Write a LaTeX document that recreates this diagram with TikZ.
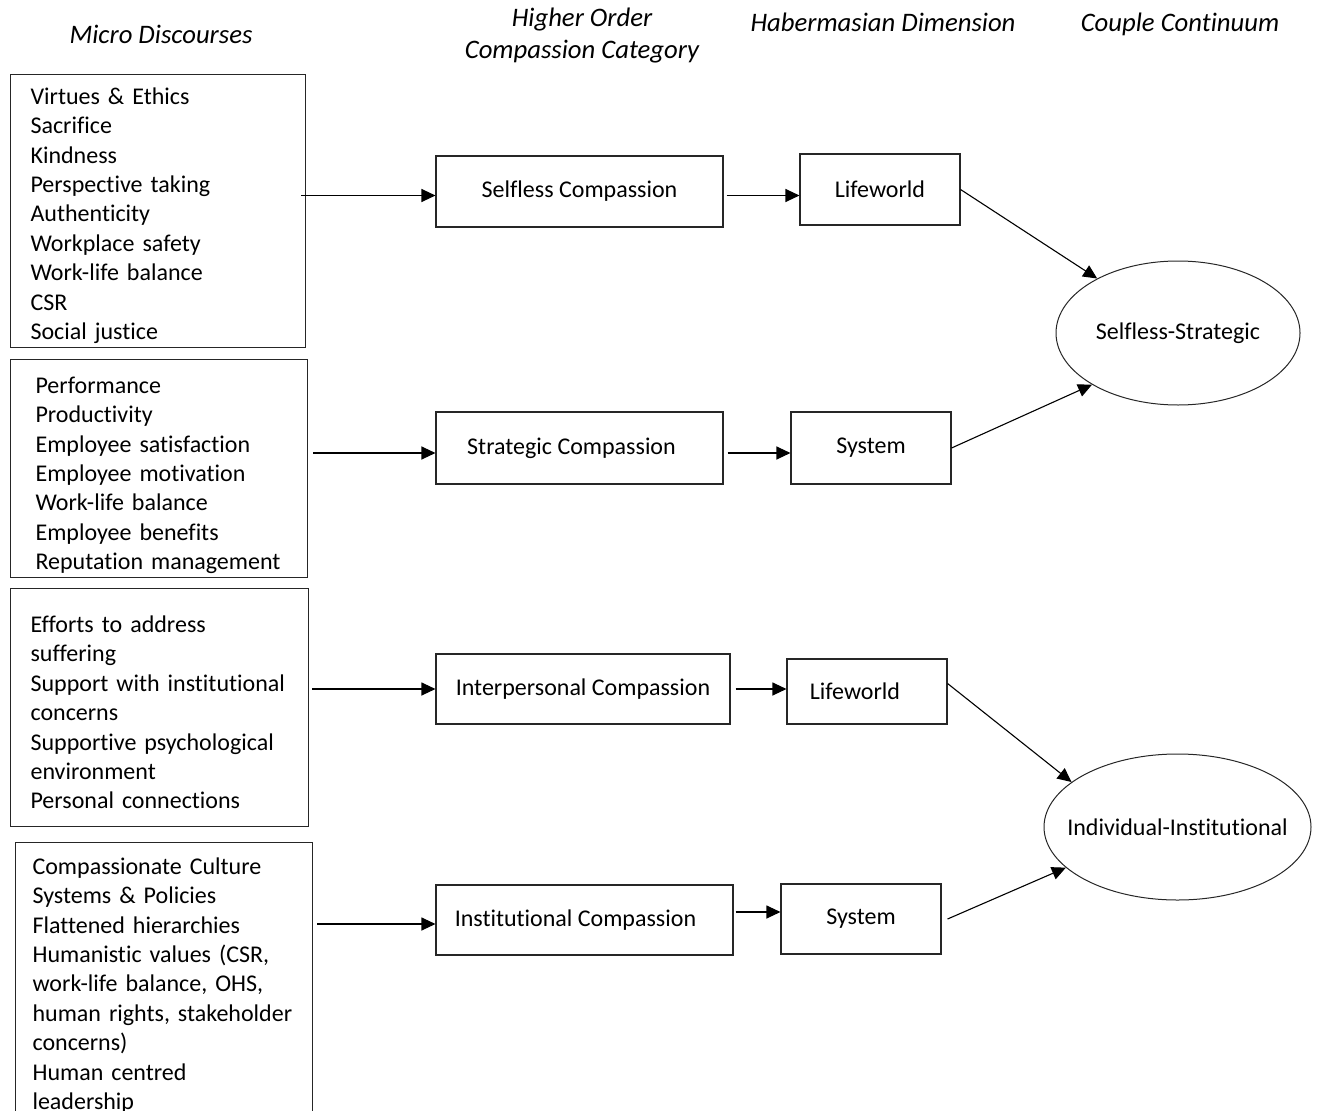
\documentclass[tikz,border=0pt]{standalone}
\usepackage{fontspec}
\setmainfont{Carlito}[Ligatures=NoCommon]
\usetikzlibrary{arrows.meta,positioning,shapes.geometric}

\begin{document}
\begin{tikzpicture}[
 x=1pt,y=-1pt,font=\fontsize{24}{29.4}\selectfont,
 list/.style={draw=black!85,line width=1.1pt,align=left,anchor=north west,inner ysep=2pt},
 cat/.style={draw=black!85,line width=1.1pt,inner sep=0pt},
 oval/.style={ellipse,draw=black!85,line width=1pt,inner ysep=0pt},
 flow/.style={-{Triangle[length=14pt,width=13pt]},draw=black,line width=1.1pt},
 head/.style={font=\fontsize{26.7}{32}\selectfont\itshape,align=center}
]
\useasboundingbox (0,0) rectangle (1321,1110);

% column heads
\node[head] (h1) at (161,34) {Micro Discourses};
\node[head] (h2) at (582,36) {Higher Order\\Compassion Category};
\node[head] (h3) at (883,22) {Habermasian Dimension};
\node[head] (h4) at (1180,24) {Couple Continuum};

% micro discourses
\node[list,text width=255pt,inner xsep=20pt,text height=26pt,minimum height=273pt] (m1) at (10,74) {Virtues \& Ethics\\Sacrifice\\Kindness\\Perspective taking\\Authenticity\\Workplace safety\\Work-life balance\\CSR\\Social justice};
\node[list,text width=247pt,inner xsep=25pt,text height=30pt,minimum height=218pt] (m2) at (10,359) {Performance\\Productivity\\Employee satisfaction\\Employee motivation\\Work-life balance\\Employee benefits\\Reputation management};
\node[list,text width=258pt,inner xsep=20pt,text height=26.5pt,minimum height=238pt] (m3) at (10,588) {Efforts to address\\suffering\\Support with institutional\\concerns\\Supportive psychological\\environment\\Personal connections};
\node[list,text width=263pt,inner xsep=17pt,inner ysep=15pt] (m4) at (15,842) {Compassionate Culture\\Systems \& Policies\\Flattened hierarchies\\Humanistic values (CSR,\\work-life balance, OHS,\\human rights, stakeholder\\concerns)\\Human centred\\leadership};

% compassion categories
\node[cat,minimum width=287pt,minimum height=71pt] (c1) at (579.5,191.5) {Selfless Compassion};
\node[cat,minimum width=287pt,minimum height=72pt] (c2) at (579.5,448) {\hspace*{-16pt}Strategic Compassion};
\node[cat,minimum width=294pt,minimum height=70pt] (c3) at (583,689) {Interpersonal Compassion};
\node[cat,minimum width=297pt,minimum height=70pt] (c4) at (584.5,920) {\hspace*{-18pt}Institutional Compassion};

% habermasian dimension
\node[cat,minimum width=160pt,minimum height=71pt] (l1) at (880,189.5) {Lifeworld};
\node[cat,minimum width=160pt,minimum height=72pt] (s1) at (871,448) {System};
\node[cat,minimum width=160pt,minimum height=65pt] (l2) at (867,691.5) {\hspace*{-24pt}Lifeworld};
\node[cat,minimum width=160pt,minimum height=70pt] (s2) at (861,919) {System};

% continua
\node[oval,minimum width=244pt,minimum height=144pt] (e1) at (1178,333) {Selfless-Strategic};
\node[oval,inner xsep=-17pt,minimum width=267pt,minimum height=146pt] (e2) at (1177.5,827) {Individual-Institutional};

\draw[flow] ([xshift=-5pt,yshift=-4pt]m1.east |- c1.west) -- ([yshift=-4pt]c1.west);
\draw[flow] ([xshift=5pt,yshift=-5pt]m2.east |- c2.west) -- ([yshift=-5pt]c2.west);
\draw[flow] ([xshift=3pt]m3.east |- c3.west) -- (c3.west);
\draw[flow] ([xshift=4pt,yshift=-4pt]m4.east |- c4.west) -- ([yshift=-4pt]c4.west);
\draw[flow] ([xshift=3pt,yshift=-4pt]c1.east) -- ([yshift=-4pt]c1.east -| l1.west);
\draw[flow] ([xshift=4pt,yshift=-5pt]c2.east) -- ([yshift=-5pt]c2.east -| s1.west);
\draw[flow] ([xshift=5pt]c3.east) -- (c3.east -| l2.west);
\draw[flow] ([xshift=2pt,yshift=8pt]c4.east) -- ([yshift=8pt]c4.east -| s2.west);
\draw[flow] (l1.east) -- (e1.146);
\draw[flow] (s1.east) -- (e1.211);
\draw[flow] ([yshift=8pt]l2.east) -- (e2.157);
\draw[flow] ([xshift=6pt]s2.east) -- (e2.200);
\end{tikzpicture}
\end{document}
